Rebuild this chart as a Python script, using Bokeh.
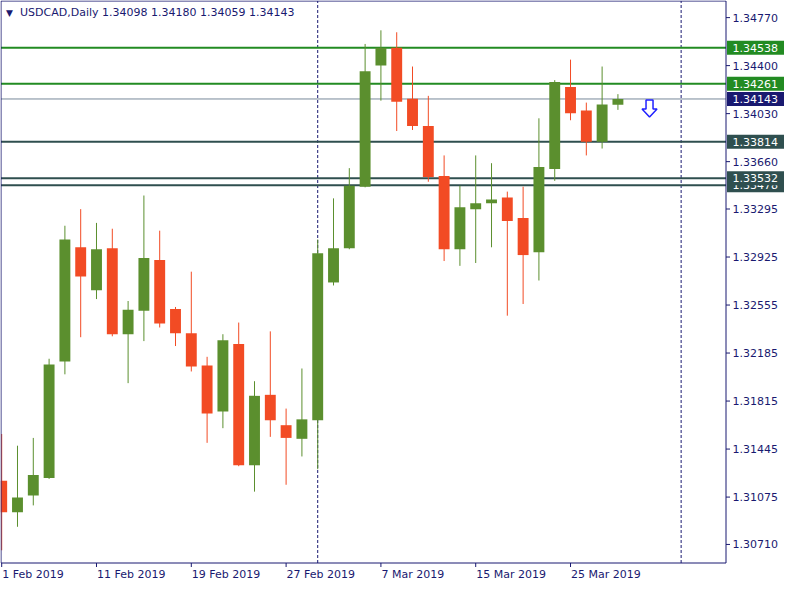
import datetime as dt
from bokeh.plotting import figure
from bokeh.models import Range1d, ColumnDataSource
from bokeh.embed import file_html
from bokeh.resources import INLINE
from bokeh.core.properties import value

# ---------------- data ----------------
dates = ["2019-02-01", "2019-02-04", "2019-02-05", "2019-02-06", "2019-02-07", "2019-02-08",
         "2019-02-11", "2019-02-12", "2019-02-13", "2019-02-14", "2019-02-15",
         "2019-02-18", "2019-02-19", "2019-02-20", "2019-02-21", "2019-02-22",
         "2019-02-25", "2019-02-26", "2019-02-27", "2019-02-28", "2019-03-01",
         "2019-03-04", "2019-03-05", "2019-03-06", "2019-03-07", "2019-03-08",
         "2019-03-11", "2019-03-12", "2019-03-13", "2019-03-14", "2019-03-15",
         "2019-03-18", "2019-03-19", "2019-03-20", "2019-03-21", "2019-03-22",
         "2019-03-25", "2019-03-26", "2019-03-27", "2019-03-28"]

opens = [1.31200, 1.30959, 1.31087, 1.31222, 1.32119, 1.33000, 1.32668, 1.32992, 1.32330, 1.32510,
         1.32902, 1.32525, 1.32337, 1.32089, 1.31734, 1.32254, 1.31320, 1.31863, 1.31629, 1.31524,
         1.31667, 1.32729, 1.32992, 1.33467, 1.34401, 1.34537, 1.34145, 1.33934, 1.33550, 1.32985,
         1.33294, 1.33339, 1.33384, 1.33226, 1.32962, 1.33603, 1.34235, 1.34054, 1.33813, 1.34098]
highs = [1.31561, 1.31471, 1.31531, 1.32141, 1.33166, 1.33294, 1.33188, 1.33143, 1.32586, 1.33399,
         1.33128, 1.32540, 1.32812, 1.32156, 1.32330, 1.32420, 1.31968, 1.32352, 1.31757, 1.32066,
         1.33060, 1.33377, 1.33610, 1.34567, 1.34672, 1.34657, 1.34393, 1.34167, 1.33708, 1.33474,
         1.33708, 1.33648, 1.33429, 1.33467, 1.33994, 1.34288, 1.34446, 1.34115, 1.34393, 1.34180]
lows = [1.30665, 1.30846, 1.31011, 1.31215, 1.32021, 1.32307, 1.32601, 1.32314, 1.31953, 1.32277,
        1.32382, 1.32239, 1.32043, 1.31493, 1.31606, 1.31313, 1.31117, 1.31539, 1.31170, 1.31388,
        1.31290, 1.32706, 1.32985, 1.33462, 1.34130, 1.33896, 1.33904, 1.33505, 1.32894, 1.32857,
        1.32879, 1.33000, 1.32473, 1.32563, 1.32744, 1.33512, 1.33979, 1.33708, 1.33761, 1.34059]
closes = [1.30959, 1.31072, 1.31245, 1.32096, 1.33060, 1.32774, 1.32985, 1.32330, 1.32518, 1.32917,
          1.32412, 1.32337, 1.32081, 1.31719, 1.32284, 1.31320, 1.31855, 1.31667, 1.31531, 1.31674,
          1.32955, 1.32992, 1.33474, 1.34356, 1.34537, 1.34122, 1.33934, 1.33542, 1.32985, 1.33309,
          1.33339, 1.33369, 1.33203, 1.32940, 1.33618, 1.34273, 1.34032, 1.33813, 1.34100, 1.34143]

price_ticks = [1.34770, 1.34400, 1.34030, 1.33660, 1.33295, 1.32925, 1.32555,
               1.32185, 1.31815, 1.31445, 1.31075, 1.30710]
date_tick_idx = [0, 6, 12, 18, 24, 30, 36]

levels = [1.34538, 1.34261, 1.33814, 1.33478, 1.33532]
level_kinds = ["green", "green", "slate", "slate", "slate"]
separators = [20, 43]

symbol = "USDCAD,Daily"

# ---------------- style / geometry ----------------
NAVY = "#191970"
UP = "#5b8f2e"
DOWN = "#f24b24"
LEVEL_COL = {"green": "#228b22", "slate": "#2f4f4f"}
BID_LINE = "#778899"
ARROW = "#2020ff"
FONT = "DejaVu Sans"
FS = "11px"

CW, CH = 784, 584                        # canvas
CL, CR, CT, CB = 0.5, 725.5, 0.5, 562.5  # chart box inside canvas (px)
X0, X1 = -0.044, 45.84                   # visible bar index range of chart box
Y0, Y1 = 1.30567, 1.34898                # visible price range of chart box
sx = (CR - CL) / (X1 - X0)
sy = (CB - CT) / (Y1 - Y0)


def dx(px):
    return px / sx


def dy(px):
    return px / sy


p = figure(width=CW, height=CH, output_backend="svg", toolbar_location=None,
           x_range=Range1d(X0 - dx(CL), X1 + dx(CW - CR)),
           y_range=Range1d(Y0 - dy(CH - CB), Y1 + dy(CT)),
           x_axis_location=None, y_axis_location=None, min_border=0)
p.background_fill_color = "white"
p.border_fill_color = "white"
p.outline_line_color = None
p.xgrid.visible = False
p.ygrid.visible = False

# period separators (dashed verticals)
p.segment(x0=separators, y0=[Y0] * len(separators), x1=separators, y1=[Y1] * len(separators),
          line_color=NAVY, line_width=1, line_dash="3 2")

# horizontal levels
for lv, kind in zip(levels, level_kinds):
    p.segment(x0=[X0], y0=[lv], x1=[X1], y1=[lv], line_color=LEVEL_COL[kind], line_width=2)
bid = closes[-1]
p.segment(x0=[X0], y0=[bid], x1=[X1], y1=[bid], line_color=BID_LINE, line_width=1)

# candles
idx = list(range(len(dates)))
colors = [UP if c >= o else DOWN for o, c in zip(opens, closes)]
src = ColumnDataSource(dict(
    x=idx, o=opens, h=highs, l=lows, c=closes,
    top=[max(o, c) for o, c in zip(opens, closes)],
    bottom=[min(o, c) for o, c in zip(opens, closes)],
    color=colors))
p.segment(x0="x", y0="h", x1="x", y1="l", color="color", line_width=1, source=src)
p.vbar(x="x", width=0.69, top="top", bottom="bottom", fill_color="color",
       line_color=None, source=src)

# chart frame (left / top / bottom / right price-axis line)
p.quad(left=[X0], right=[X1], bottom=[Y0], top=[Y1], fill_color=None,
       line_color=NAVY, line_width=1)

# price axis: ticks and labels
p.segment(x0=[X1] * len(price_ticks), y0=price_ticks,
          x1=[X1 + dx(4)] * len(price_ticks), y1=price_ticks, line_color=NAVY, line_width=1)
p.text(x=[X1 + dx(6.5)] * len(price_ticks), y=price_ticks,
       text=[f"{t:.5f}" for t in price_ticks], text_font=value(FONT), text_font_size=FS,
       text_color=NAVY, text_align="left", text_baseline="middle")

# date axis: ticks and left-aligned labels
p.segment(x0=date_tick_idx, y0=[Y0] * len(date_tick_idx), x1=date_tick_idx,
          y1=[Y0 - dy(4)] * len(date_tick_idx), line_color=NAVY, line_width=1)
date_labels = []
for i in date_tick_idx:
    d = dt.date.fromisoformat(dates[i])
    date_labels.append(f"{d.day} {d.strftime('%b %Y')}")
p.text(x=[i + dx(0.5) for i in date_tick_idx], y=[Y0 - dy(5)] * len(date_tick_idx),
       text=date_labels, text_font=value(FONT), text_font_size=FS, text_color=NAVY,
       text_align="left", text_baseline="top")

# price level boxes on the price axis
box_items = [(lv, LEVEL_COL[k]) for lv, k in zip(levels, level_kinds)] + [(bid, NAVY)]
for lv, col in box_items:
    p.rect(x=[X1 + dx(1 + 28.5)], y=[lv], width=57, height=14,
           width_units="screen", height_units="screen", fill_color=col, line_color=None)
    p.text(x=[X1 + dx(6.5)], y=[lv], text=[f"{lv:.5f}"], text_font=value(FONT),
           text_font_size=FS, text_color="white", text_align="left", text_baseline="middle")

# hollow down-arrow marker beside the last price (outline in pixel offsets)
ax, ay = idx[-1] + 2, bid
arrow_px = [(-3.5, -1), (3.5, -1), (3.5, -10), (7.5, -10), (0, -18), (-7.5, -10), (-3.5, -10)]
p.patch(x=[ax + dx(u) for u, v in arrow_px], y=[ay + dy(v) for u, v in arrow_px],
        fill_color="#ffffff", line_color=ARROW, line_width=1.5)

# header
hy = Y1 - dy(11.5)
p.text(x=[X0 + dx(5)], y=[hy], text=["▼"], text_font=value(FONT), text_font_size="9px",
       text_color=NAVY, text_align="left", text_baseline="middle")
p.text(x=[X0 + dx(19)], y=[hy], text=[symbol], text_font=value(FONT), text_font_size=FS,
       text_color=NAVY, text_align="left", text_baseline="middle")
p.text(x=[X0 + dx(101)], y=[hy],
       text=[f"{opens[-1]:.5f} {highs[-1]:.5f} {lows[-1]:.5f} {closes[-1]:.5f}"],
       text_font=value(FONT), text_font_size=FS, text_color=NAVY, text_align="left",
       text_baseline="middle")

open("out.html", "w").write(file_html(p, INLINE))
